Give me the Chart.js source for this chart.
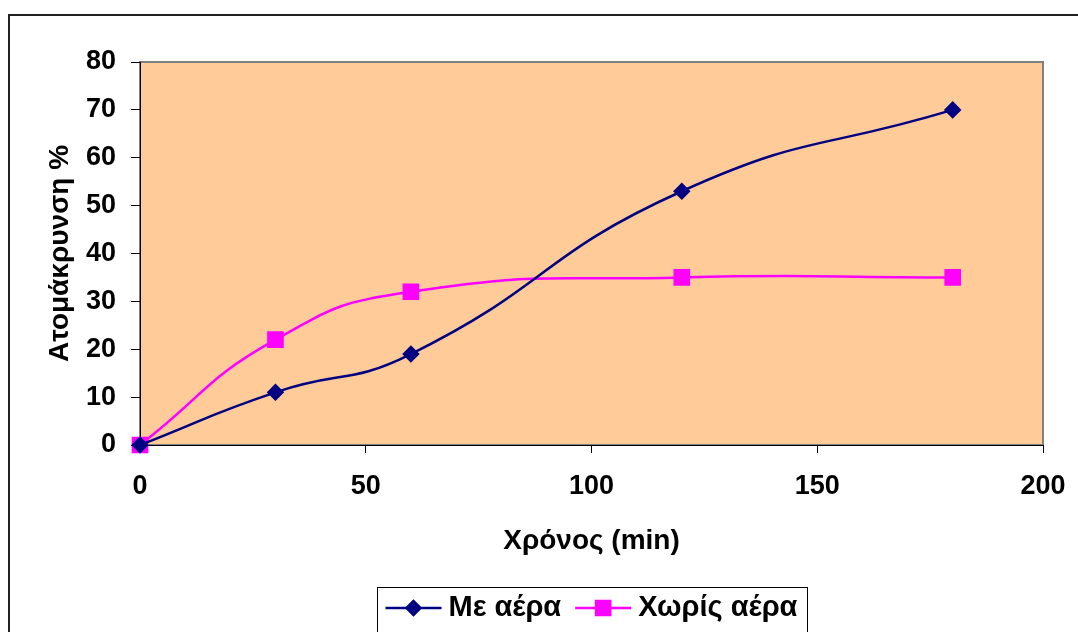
<!DOCTYPE html>
<html>
<head>
<meta charset="utf-8">
<script src="https://cdn.jsdelivr.net/npm/chart.js@4"></script>
<style>
  html, body { margin: 0; padding: 0; background: #fff; }
  #wrap { width: 1078px; height: 632px; position: relative; }
</style>
</head>
<body>
<div id="wrap"><canvas id="chartAtom"></canvas></div>
<script>
// Δεδομένα
const xronos = [0, 30, 60, 120, 180];
const meAera = [0, 11, 19, 53, 70];
const xorisAera = [0, 22, 32, 35, 35];
const labelsSeires = ['Με αέρα', 'Χωρίς αέρα'];
const titlosX = 'Χρόνος (min)';
const titlosY = 'Ατομάκρυνση %';

const FONT = '"Liberation Sans", Arial, sans-serif';

// background of the plot area + outer frame
const plotBg = {
    id: 'plotBg',
    beforeDraw(chart) {
        const { ctx, chartArea: a } = chart;
        ctx.save();
        ctx.fillStyle = '#FFCC99';
        ctx.fillRect(a.left, a.top, a.right - a.left, a.bottom - a.top);
        ctx.strokeStyle = '#808080';
        ctx.lineWidth = 2;
        ctx.strokeRect(a.left, a.top, a.right - a.left, a.bottom - a.top);
        // outer frame (cut by the picture on right/bottom)
        ctx.strokeStyle = '#222';
        ctx.lineWidth = 2;
        ctx.beginPath();
        ctx.moveTo(9, chart.height);
        ctx.lineTo(9, 15);
        ctx.lineTo(chart.width, 15);
        ctx.stroke();
        ctx.restore();
    }
};

// legend with line + marker, framed like excel
const excelLegend = {
    id: 'excelLegend',
    afterDraw(chart) {
        const { ctx, chartArea: a } = chart;
        const w = 430, h = 45;
        const x0 = Math.round((a.left + a.right) / 2 - w / 2) + 0.5;
        const y0 = 587.5;
        ctx.save();
        ctx.fillStyle = '#fff';
        ctx.fillRect(x0, y0, w, h);
        ctx.strokeStyle = '#000';
        ctx.lineWidth = 1;
        ctx.strokeRect(x0, y0, w, h);
        ctx.font = 'bold 29px ' + FONT;
        ctx.textBaseline = 'middle';
        const cy = 608;
        let x = x0 + 8;
        chart.data.datasets.forEach(ds => {
            ctx.strokeStyle = ds.borderColor;
            ctx.lineWidth = 2.5;
            ctx.beginPath();
            ctx.moveTo(x, cy);
            ctx.lineTo(x + 56, cy);
            ctx.stroke();
            Chart.helpers.drawPoint(ctx, {
                pointStyle: ds.pointStyle,
                radius: ds.pointRadius,
                borderWidth: 1
            }, x + 28, cy);
            ctx.fillStyle = ds.pointBackgroundColor;
            ctx.strokeStyle = ds.pointBorderColor;
            ctx.fill();
            ctx.fillStyle = '#000';
            ctx.fillText(ds.label, x + 63, cy);
            x += 63 + ctx.measureText(ds.label).width + 14;
        });
        ctx.restore();
    }
};

new Chart(document.getElementById('chartAtom'), {
    type: 'line',
    data: {
        datasets: [
            {
                label: labelsSeires[0],
                data: xronos.map((t, i) => ({ x: t, y: meAera[i] })),
                borderColor: '#000080',
                backgroundColor: '#000080',
                pointBackgroundColor: '#000080',
                pointBorderColor: '#000080',
                borderWidth: 2.5,
                pointStyle: 'rectRot',
                pointRadius: 7,
                pointHoverRadius: 7,
                tension: 0.5,
                clip: false
            },
            {
                label: labelsSeires[1],
                data: xronos.map((t, i) => ({ x: t, y: xorisAera[i] })),
                borderColor: '#FF00FF',
                backgroundColor: '#FF00FF',
                pointBackgroundColor: '#FF00FF',
                pointBorderColor: '#FF00FF',
                borderWidth: 2.5,
                pointStyle: 'rect',
                pointRadius: 10,
                pointHoverRadius: 10,
                tension: 0.5,
                clip: false
            }
        ]
    },
    options: {
        responsive: true,
        maintainAspectRatio: false,
        animation: false,
        layout: { padding: { top: 62, right: 35, left: 0, bottom: 0 } },
        plugins: {
            legend: { display: false },
            tooltip: { enabled: false }
        },
        scales: {
            x: {
                type: 'linear',
                min: 0,
                max: 200,
                afterFit: s => {
                    s.height = 187;
                    s.paddingLeft = 0;
                    s.paddingRight = 0;
                },
                ticks: {
                    stepSize: 50,
                    padding: 17,
                    color: '#000',
                    font: { family: FONT, size: 27, weight: 'bold' }
                },
                grid: { drawOnChartArea: false, tickLength: 8, color: '#000' },
                border: { color: '#000', width: 1 },
                title: {
                    display: true,
                    text: titlosX,
                    color: '#000',
                    padding: { top: 0, bottom: 74 },
                    font: { family: FONT, size: 28, weight: 'bold' }
                }
            },
            y: {
                min: 0,
                max: 80,
                afterFit: s => { s.width = 140; },
                ticks: {
                    stepSize: 10,
                    padding: 15,
                    color: '#000',
                    font: { family: FONT, size: 27, weight: 'bold' }
                },
                grid: { drawOnChartArea: false, tickLength: 9, color: '#000' },
                border: { color: '#000', width: 1 },
                title: {
                    display: true,
                    text: titlosY,
                    color: '#000',
                    padding: { top: 43, bottom: 0 },
                    font: { family: FONT, size: 28, weight: 'bold' }
                }
            }
        }
    },
    plugins: [plotBg, excelLegend]
});
</script>
</body>
</html>
